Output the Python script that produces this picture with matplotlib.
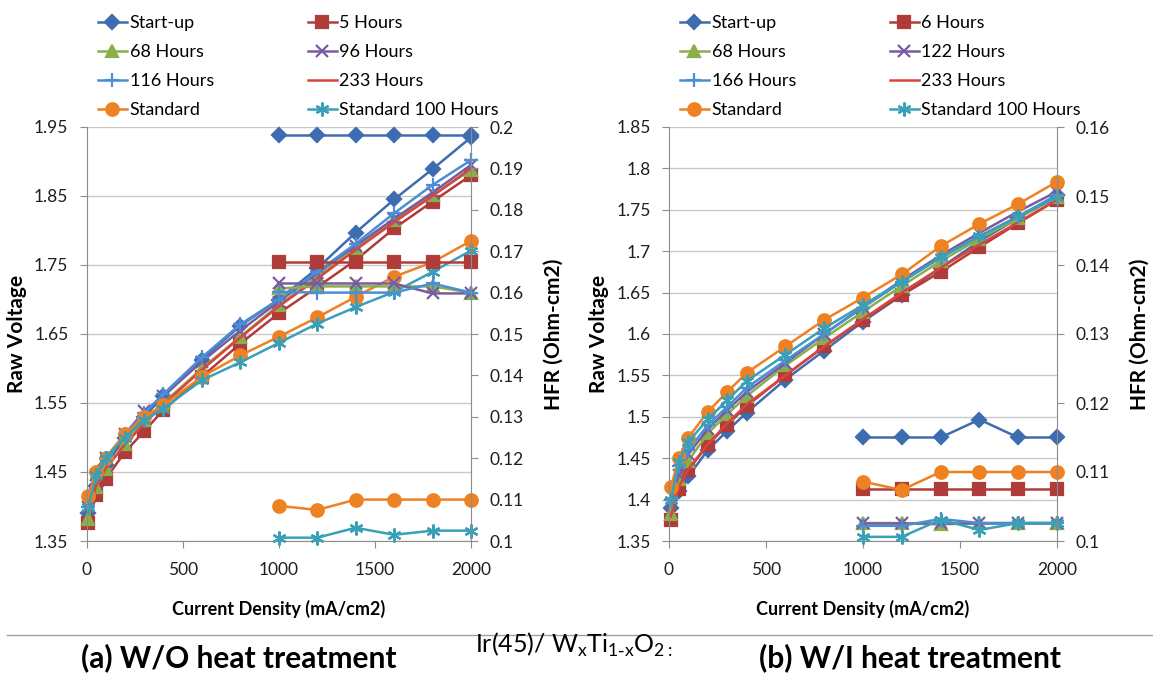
import numpy as np
import matplotlib.pyplot as plt
from matplotlib.lines import Line2D
from matplotlib.ticker import MultipleLocator, FuncFormatter

plt.rcParams.update({
    "font.family": ["Lato", "DejaVu Sans"],
    "font.size": 12.5,
    "xtick.labelsize": 12.5,
    "ytick.labelsize": 12.5,
    "axes.edgecolor": "#8C8C8C",
    "xtick.color": "#8C8C8C",
    "ytick.color": "#8C8C8C",
    "xtick.labelcolor": "#1E1E1E",
    "ytick.labelcolor": "#1E1E1E",
})

# ---------------------------------------------------------------
# DATA
# ---------------------------------------------------------------

current_v = [10, 50, 100, 200, 300, 400, 600, 800, 1000, 1200, 1400, 1600, 1800, 2000]
current_hfr = [1000, 1200, 1400, 1600, 1800, 2000]

# (a) without heat treatment
a_labels = ["Start-up", "5 Hours", "68 Hours", "96 Hours",
            "116 Hours", "233 Hours", "Standard", "Standard 100 Hours"]
a_startup_v = [1.390, 1.430, 1.460, 1.500, 1.530, 1.560, 1.613, 1.662, 1.700, 1.745, 1.797, 1.845, 1.889, 1.935]
a_5h_v = [1.376, 1.416, 1.440, 1.479, 1.509, 1.540, 1.588, 1.636, 1.680, 1.718, 1.757, 1.803, 1.842, 1.880]
a_68h_v = [1.382, 1.428, 1.455, 1.491, 1.525, 1.550, 1.600, 1.646, 1.692, 1.733, 1.774, 1.815, 1.851, 1.888]
a_96h_v = [1.400, 1.445, 1.470, 1.505, 1.538, 1.560, 1.610, 1.655, 1.697, 1.738, 1.778, 1.817, 1.855, 1.895]
a_116h_v = [1.400, 1.450, 1.470, 1.505, 1.535, 1.563, 1.616, 1.664, 1.700, 1.740, 1.781, 1.825, 1.866, 1.902]
a_233h_v = [1.390, 1.430, 1.455, 1.490, 1.520, 1.548, 1.598, 1.645, 1.690, 1.730, 1.772, 1.812, 1.850, 1.890]
a_std_v = [1.415, 1.450, 1.470, 1.505, 1.530, 1.547, 1.588, 1.619, 1.646, 1.674, 1.704, 1.733, 1.754, 1.785]
a_std100_v = [1.400, 1.445, 1.470, 1.500, 1.525, 1.542, 1.583, 1.609, 1.637, 1.665, 1.689, 1.711, 1.740, 1.771]

a_startup_hfr = [0.198, 0.198, 0.198, 0.198, 0.198, 0.198]
a_5h_hfr = [0.1675, 0.1675, 0.1675, 0.1675, 0.1675, 0.1675]
a_68h_hfr = [0.161, 0.1615, 0.1615, 0.1615, 0.1615, 0.160]
a_96h_hfr = [0.1622, 0.1622, 0.1622, 0.1622, 0.1598, 0.1598]
a_116h_hfr = [0.1602, 0.160, 0.160, 0.160, 0.1622, 0.160]
a_std_hfr = [0.1085, 0.1075, 0.110, 0.110, 0.110, 0.110]
a_std100_hfr = [0.1008, 0.1008, 0.1032, 0.1015, 0.1025, 0.1025]

# (b) with heat treatment
b_labels = ["Start-up", "6 Hours", "68 Hours", "122 Hours",
            "166 Hours", "233 Hours", "Standard", "Standard 100 Hours"]
b_startup_v = [1.390, 1.410, 1.428, 1.460, 1.483, 1.505, 1.545, 1.580, 1.615, 1.647, 1.680, 1.712, 1.740, 1.768]
b_6h_v = [1.375, 1.413, 1.436, 1.466, 1.490, 1.513, 1.550, 1.585, 1.617, 1.647, 1.675, 1.705, 1.734, 1.762]
b_68h_v = [1.383, 1.425, 1.447, 1.480, 1.503, 1.525, 1.562, 1.595, 1.627, 1.658, 1.688, 1.715, 1.740, 1.765]
b_122h_v = [1.395, 1.430, 1.455, 1.485, 1.508, 1.530, 1.565, 1.600, 1.633, 1.665, 1.695, 1.722, 1.748, 1.772]
b_166h_v = [1.400, 1.440, 1.460, 1.490, 1.512, 1.535, 1.568, 1.600, 1.632, 1.663, 1.692, 1.718, 1.742, 1.768]
b_233h_v = [1.380, 1.415, 1.437, 1.467, 1.492, 1.515, 1.550, 1.585, 1.618, 1.650, 1.680, 1.708, 1.735, 1.762]
b_std_v = [1.415, 1.450, 1.475, 1.506, 1.530, 1.553, 1.585, 1.617, 1.644, 1.672, 1.706, 1.733, 1.757, 1.784]
b_std100_v = [1.400, 1.445, 1.470, 1.497, 1.520, 1.543, 1.575, 1.607, 1.635, 1.663, 1.693, 1.718, 1.742, 1.765]

b_startup_hfr = [0.115, 0.115, 0.115, 0.1176, 0.115, 0.115]
b_6h_hfr = [0.1075, 0.1075, 0.1075, 0.1075, 0.1075, 0.1075]
b_68h_hfr = [0.1026, 0.1026, 0.1024, 0.1026, 0.1026, 0.1026]
b_122h_hfr = [0.1026, 0.1026, 0.1026, 0.1026, 0.1026, 0.1026]
b_166h_hfr = [0.1022, 0.1022, 0.1032, 0.1026, 0.1026, 0.1026]
b_std_hfr = [0.1086, 0.1074, 0.110, 0.110, 0.110, 0.110]
b_std100_hfr = [0.1006, 0.1006, 0.1031, 0.1016, 0.1026, 0.1026]

# series styles (same order in both panels)
colors = ["#3D6DB0", "#B03C3A", "#8AAF4A", "#7A5BA3", "#4A8FD6", "#D9443F", "#EE8122", "#3AA0B8"]
markers = ["D", "s", "^", "x", "+", None, "o", (6, 2, 0)]
msizes = [7, 8, 8, 8, 10, 0, 9, 10]

W, H = 1153, 680


def fmt(v, pos):
    return f"{round(v, 3):g}"


def drawPanel(ax, voltages, hfrs, labels, vlim, vstep, hlim, hstep, legend_x):
    '''
    Voltage curves on the left axis, HFR on a twin right axis
    '''
    ax2 = ax.twinx()
    handles = []
    for i in range(len(labels)):
        style = dict(color=colors[i], marker=markers[i], ms=msizes[i], lw=1.8,
                     mew=1.6, clip_on=False)
        h, = ax.plot(current_v, voltages[i], label=labels[i], **style)
        handles.append(h)
        if hfrs[i] is not None:
            ax2.plot(current_hfr, hfrs[i], **style)

    ax.set_xlim(0, 2000)
    ax.xaxis.set_major_locator(MultipleLocator(500))
    ax.set_yticks(np.arange(vlim[0], vlim[1] + vstep / 2, vstep))
    ax2.set_yticks(np.arange(hlim[0], hlim[1] + hstep / 2, hstep))
    ax.set_ylim(*vlim)
    ax2.set_ylim(*hlim)
    ax.yaxis.set_major_formatter(FuncFormatter(fmt))
    ax2.yaxis.set_major_formatter(FuncFormatter(fmt))

    ax.yaxis.grid(True, color="#C8C8C8", lw=1)
    ax.set_axisbelow(True)
    for s in ["top", "right"]:
        ax.spines[s].set_visible(False)
    for s in ["top", "left", "bottom"]:
        ax2.spines[s].set_visible(False)
    ax.tick_params(axis="y", direction="out", length=5, pad=8)
    ax.tick_params(axis="x", direction="out", length=5, pad=10)
    ax2.tick_params(axis="y", direction="out", length=5, pad=8)

    ax.set_xlabel("Current Density (mA/cm2)", fontsize=13, fontweight="bold")
    ax.xaxis.set_label_coords(0.5, -0.1425)
    ax.set_ylabel("Raw Voltage", fontsize=15, fontweight="bold")
    ax.yaxis.set_label_coords(-0.155, 0.5)
    ax2.set_ylabel("HFR (Ohm-cm2)", fontsize=15, fontweight="bold")
    ax2.yaxis.set_label_coords(1.188, 0.5)

    order = [0, 2, 4, 6, 1, 3, 5, 7]
    ax2.legend([handles[k] for k in order], [labels[k] for k in order],
               ncol=2, loc="upper left", bbox_to_anchor=(legend_x / W, 1 - 15 / H),
               bbox_transform=ax.figure.transFigure, frameon=False,
               fontsize=13, handlelength=1.6, handletextpad=0.15,
               columnspacing=5.2, labelspacing=0.72, borderpad=0, borderaxespad=0,
               numpoints=1)


fig = plt.figure(figsize=(W / 100, H / 100), dpi=100)
ax_a = fig.add_axes([86.5 / W, 1 - 541 / H, 384.5 / W, 414 / H])
ax_b = fig.add_axes([669 / W, 1 - 541 / H, 388 / W, 414 / H])

drawPanel(ax_a,
          [a_startup_v, a_5h_v, a_68h_v, a_96h_v, a_116h_v, a_233h_v, a_std_v, a_std100_v],
          [a_startup_hfr, a_5h_hfr, a_68h_hfr, a_96h_hfr, a_116h_hfr, None, a_std_hfr, a_std100_hfr],
          a_labels, (1.35, 1.95), 0.1, (0.1, 0.2), 0.01, 98)
drawPanel(ax_b,
          [b_startup_v, b_6h_v, b_68h_v, b_122h_v, b_166h_v, b_233h_v, b_std_v, b_std100_v],
          [b_startup_hfr, b_6h_hfr, b_68h_hfr, b_122h_hfr, b_166h_hfr, None, b_std_hfr, b_std100_hfr],
          b_labels, (1.35, 1.85), 0.05, (0.1, 0.16), 0.01, 680)

# separator and captions
fig.add_artist(Line2D([7 / W, 1], [1 - 635 / H, 1 - 635 / H], color="#A0A0A0", lw=1))
fig.text(239 / W, 1 - 658 / H, "(a) W/O heat treatment", fontsize=21.5,
         fontweight="bold", ha="center", va="center")
fig.text(910 / W, 1 - 658 / H, "(b) W/I heat treatment", fontsize=21.5,
         fontweight="bold", ha="center", va="center")
fig.text(475 / W, 1 - 645 / H,
         r"Ir(45)/ W$_\mathregular{x}$Ti$_\mathregular{1\text{-}x}$O$_\mathregular{2:}$",
         fontsize=18, ha="left", va="center")

plt.savefig("out.png", dpi=100)
